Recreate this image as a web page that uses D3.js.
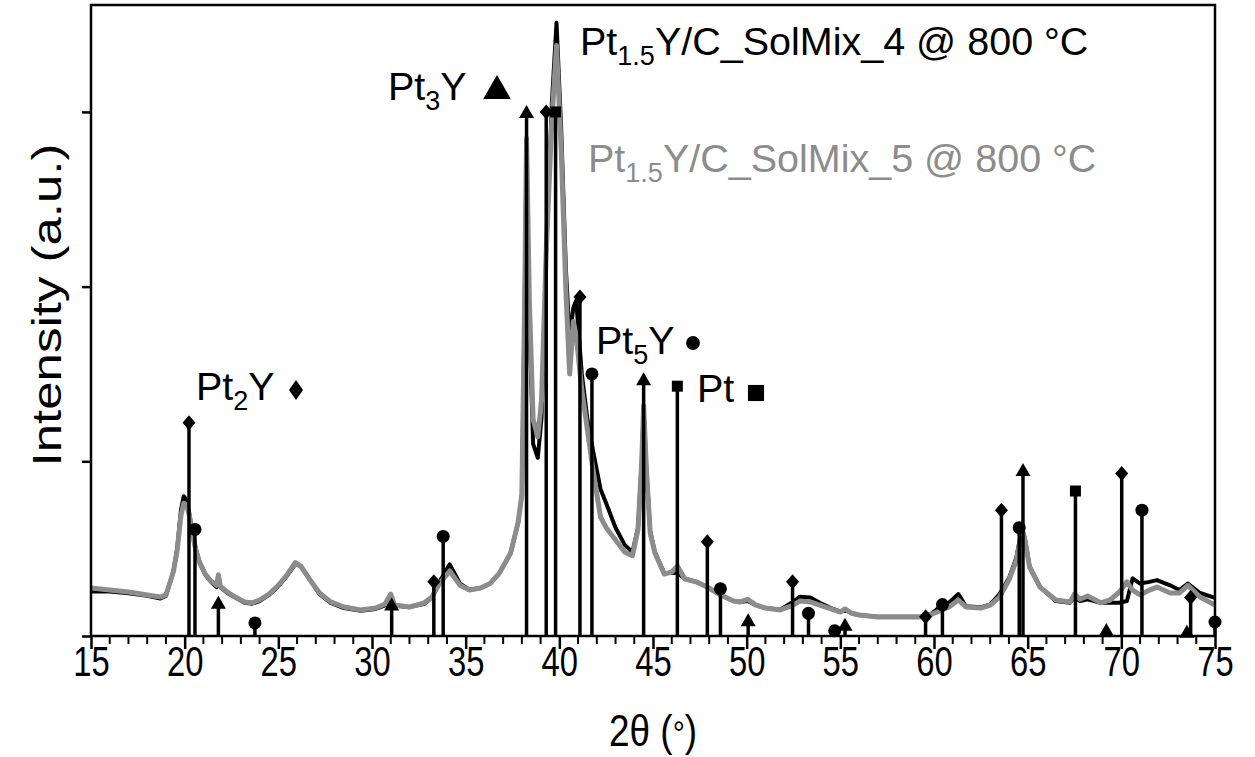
<!DOCTYPE html>
<html><head><meta charset="utf-8">
<script src="https://cdn.jsdelivr.net/npm/d3@7"></script>
<style>body{margin:0;background:#fff}svg{display:block}text{font-family:"Liberation Sans",Arial,sans-serif}</style>
</head><body><svg id="c" width="1255" height="757"></svg>
<script>
// ---- data (2θ in degrees, intensity in arbitrary units) ----
const xTicks = [15,20,25,30,35,40,45,50,55,60,65,70,75];
const yTicks = [0,1,2,3];
const gray5 = [[15,0.275],[16,0.263],[17,0.252],[18,0.235],[18.7,0.223],[19,0.235],[19.2,0.3],[19.4,0.37],[19.6,0.49],[19.8,0.69],[19.95,0.76],[20.1,0.75],[20.25,0.69],[20.4,0.59],[20.6,0.49],[20.8,0.42],[21.1,0.355],[21.4,0.315],[21.7,0.29],[21.8,0.35],[21.9,0.285],[22.3,0.25],[22.7,0.223],[23.2,0.195],[23.6,0.19],[24,0.206],[24.5,0.24],[25,0.29],[25.5,0.355],[25.9,0.42],[26.2,0.4],[26.7,0.32],[27.2,0.246],[27.8,0.195],[28.5,0.166],[29.4,0.149],[30.2,0.16],[30.7,0.183],[31,0.24],[31.2,0.177],[32,0.166],[32.8,0.19],[33.2,0.223],[33.6,0.3],[34.15,0.372],[34.7,0.29],[35.2,0.263],[35.8,0.275],[36.3,0.3],[36.8,0.36],[37.4,0.475],[37.8,0.65],[38,0.81],[38.15,1.92],[38.25,2.85],[38.4,1.92],[38.6,1.24],[38.85,1.14],[39.05,1.35],[39.3,2.2],[39.6,2.95],[39.85,3.38],[40.1,2.78],[40.35,1.98],[40.55,1.5],[40.75,1.8],[40.9,1.72],[41.2,1.41],[41.5,1.18],[41.8,0.95],[42.2,0.68],[42.5,0.62],[43,0.55],[43.5,0.48],[43.9,0.46],[44.2,0.61],[44.4,1.0],[44.5,1.32],[44.65,0.95],[44.85,0.59],[45.1,0.475],[45.6,0.355],[46,0.366],[46.3,0.4],[46.7,0.326],[47.3,0.31],[47.9,0.28],[48.6,0.235],[49.3,0.2],[49.65,0.195],[50.05,0.21],[50.5,0.177],[51,0.16],[51.8,0.149],[52.4,0.172],[52.85,0.2],[53.4,0.195],[53.9,0.177],[54.5,0.155],[55,0.137],[55.25,0.155],[55.6,0.13],[56,0.12],[57,0.109],[58.2,0.109],[59.3,0.109],[59.9,0.126],[60.3,0.143],[60.8,0.166],[61.3,0.206],[61.7,0.166],[62.5,0.16],[63,0.177],[63.5,0.223],[64,0.32],[64.4,0.435],[64.7,0.607],[64.85,0.55],[65.1,0.395],[65.66,0.28],[66.5,0.206],[67.26,0.195],[67.5,0.24],[67.8,0.21],[68.2,0.229],[68.9,0.19],[69.4,0.206],[69.9,0.252],[70.3,0.31],[70.6,0.263],[71,0.235],[71.5,0.263],[71.9,0.28],[72.6,0.246],[73.1,0.246],[73.55,0.29],[74.2,0.223],[75,0.177]];
const black4 = [[15,0.255],[16,0.255],[17,0.245],[18,0.23],[18.7,0.215],[19,0.23],[19.2,0.3],[19.4,0.37],[19.6,0.5],[19.8,0.72],[19.95,0.8],[20.1,0.78],[20.25,0.7],[20.4,0.6],[20.6,0.5],[20.8,0.42],[21.1,0.35],[21.4,0.31],[21.7,0.28],[21.8,0.3],[21.9,0.28],[22.3,0.245],[22.7,0.22],[23.2,0.19],[23.6,0.185],[24,0.2],[24.5,0.235],[25,0.285],[25.5,0.35],[25.9,0.41],[26.2,0.4],[26.7,0.32],[27.2,0.24],[27.8,0.19],[28.5,0.16],[29.4,0.145],[30.2,0.155],[30.7,0.175],[31,0.2],[31.2,0.175],[32,0.165],[32.8,0.185],[33.2,0.22],[33.6,0.31],[34.15,0.41],[34.7,0.3],[35.2,0.265],[35.8,0.275],[36.3,0.3],[36.8,0.36],[37.4,0.475],[37.8,0.65],[38,0.81],[38.15,1.9],[38.25,2.8],[38.4,1.8],[38.6,1.1],[38.85,1.02],[39.05,1.25],[39.3,2.2],[39.6,3.05],[39.85,3.51],[40.1,2.9],[40.35,2.1],[40.55,1.71],[40.75,1.88],[40.9,1.92],[41.2,1.5],[41.5,1.24],[41.8,1.06],[42.2,0.84],[42.5,0.76],[43,0.62],[43.5,0.52],[43.9,0.48],[44.2,0.62],[44.4,1.0],[44.5,1.3],[44.65,0.95],[44.85,0.6],[45.1,0.48],[45.6,0.36],[46,0.36],[46.3,0.36],[46.7,0.33],[47.3,0.31],[47.9,0.28],[48.6,0.235],[49.3,0.2],[49.65,0.195],[50.05,0.2],[50.5,0.177],[51,0.16],[51.8,0.15],[52.4,0.19],[52.85,0.225],[53.4,0.22],[53.9,0.19],[54.5,0.16],[55,0.14],[55.25,0.15],[55.6,0.13],[56,0.12],[57,0.11],[58.2,0.11],[59.3,0.11],[59.9,0.13],[60.3,0.166],[60.8,0.19],[61.3,0.24],[61.7,0.17],[62.5,0.165],[63,0.18],[63.5,0.24],[64,0.33],[64.4,0.45],[64.7,0.62],[64.85,0.56],[65.1,0.4],[65.66,0.28],[66.5,0.2],[67.26,0.19],[67.5,0.22],[67.8,0.2],[68.2,0.21],[68.9,0.19],[69.4,0.19],[69.9,0.19],[70.3,0.2],[70.6,0.33],[71,0.3],[71.5,0.31],[71.9,0.32],[72.6,0.29],[73.1,0.263],[73.55,0.3],[74.2,0.246],[75,0.218]];
const pt2yRef = [[20.23,1.22],[33.3,0.31],[39.3,3.0],[41.1,1.94],[47.9,0.54],[52.45,0.31],[59.55,0.11],[63.6,0.72],[70.02,0.93],[73.7,0.22]];
const pt3yRef = [[21.8,0.19],[31.05,0.18],[38.25,3.0],[44.5,1.47],[50.08,0.09],[55.25,0.065],[64.75,0.95],[69.2,0.035],[73.5,0.025]];
const pt5yRef = [[20.55,0.61],[23.75,0.075],[33.8,0.57],[41.74,1.5],[48.6,0.27],[53.3,0.13],[54.7,0.03],[60.45,0.18],[64.55,0.62],[71.1,0.72],[75.0,0.08]];
const ptRef = [[39.8,3.0],[46.3,1.43],[67.55,0.83]];

// ---- chart ----
const svg = d3.select("#c");
const L=91,R=1215,T=5,B=636;
const x = d3.scaleLinear().domain([15,75]).range([L,R]);
const y = d3.scaleLinear().domain([0,3.612]).range([B,T]);

const line = d3.line().x(d=>x(d[0])).y(d=>y(d[1])).curve(d3.curveLinear);
svg.append("path").datum(black4).attr("d",line).attr("fill","none").attr("stroke","#000").attr("stroke-width",4).attr("stroke-linejoin","round");
svg.append("path").datum(gray5).attr("d",line).attr("fill","none").attr("stroke","#8c8c8c").attr("stroke-width",5).attr("stroke-linejoin","round");

// custom marker shapes
const shapes = {
  diamond: "M0,-7.5L6.5,0L0,7.5L-6.5,0Z",
  triangle: "M0,-7L7.5,6L-7.5,6Z",
  circle: "M6.5,0A6.5,6.5,0,1,1,-6.5,0A6.5,6.5,0,1,1,6.5,0Z",
  square: "M-5.5,-5.5H5.5V5.5H-5.5Z"
};
function sticks(data, shape){
  const g = svg.append("g");
  g.selectAll("line").data(data).join("line")
    .attr("x1",d=>x(d[0])).attr("x2",d=>x(d[0]))
    .attr("y1",y(0)).attr("y2",d=>y(d[1]))
    .attr("stroke","#000").attr("stroke-width",3.5);
  g.selectAll("path").data(data).join("path")
    .attr("d",shapes[shape])
    .attr("transform",d=>`translate(${x(d[0])},${y(d[1])})`)
    .attr("fill","#000");
}
sticks(pt2yRef,"diamond");
sticks(pt3yRef,"triangle");
sticks(pt5yRef,"circle");
sticks(ptRef,"square");

// frame
svg.append("rect").attr("x",L).attr("y",T).attr("width",R-L).attr("height",B-T)
  .attr("fill","none").attr("stroke","#000").attr("stroke-width",2.5);

const SQ = 0.78; // horizontal condensation of axis text
// x axis
const xa = svg.append("g").attr("transform",`translate(0,${B})`)
  .call(d3.axisBottom(x).tickValues(xTicks).tickSize(13).tickFormat(d3.format("d")));
xa.select(".domain").remove();
xa.selectAll(".tick line").attr("stroke-width",2.5);
xa.selectAll("text").attr("font-size",42).attr("y",40).attr("dy",0)
  .attr("font-family","Liberation Sans, Arial, sans-serif")
  .each(function(){ const w=this.getComputedTextLength(); d3.select(this).attr("textLength",w*SQ).attr("lengthAdjust","spacingAndGlyphs"); });
const minor = d3.range(15,76,1).filter(v=>v%5!==0);
svg.append("g").selectAll("line").data(minor).join("line")
  .attr("x1",d=>x(d)).attr("x2",d=>x(d)).attr("y1",B).attr("y2",B+8)
  .attr("stroke","#000").attr("stroke-width",2);

// y axis ticks (no labels)
const ya = svg.append("g").attr("transform",`translate(${L},0)`)
  .call(d3.axisLeft(y).tickValues(yTicks).tickSize(9).tickFormat(""));
ya.select(".domain").remove();
ya.selectAll(".tick line").attr("stroke-width",2.5);

// axis titles
const xt = svg.append("text").attr("transform",`translate(653,746) scale(0.84,1)`).attr("text-anchor","middle").attr("font-size",44);
xt.append("tspan").text("2θ (");
xt.append("tspan").text("°").attr("font-size",36);
xt.append("tspan").text(")");
svg.append("text").attr("transform",`translate(61,305) scale(${SQ},1) rotate(-90)`).attr("text-anchor","middle")
  .attr("font-size",51).text("Intensity (a.u.)");

// labels with subscripts
function label(xp, yp, main, sub, rest, color){
  const t = svg.append("text").attr("x",xp).attr("y",yp).attr("font-size",39.5).attr("fill",color);
  t.append("tspan").text(main);
  if (sub) {
    t.append("tspan").text(sub).attr("font-size",27).attr("dy",10);
    t.append("tspan").text(rest).attr("dy",-10);
  }
  return t;
}
label(580,55,"Pt","1.5","Y/C_SolMix_4 @ 800 °C","#000");
label(588,172,"Pt","1.5","Y/C_SolMix_5 @ 800 °C","#8c8c8c");
label(388,100,"Pt","3","Y","#000");
label(196,400,"Pt","2","Y","#000");
label(596,354,"Pt","5","Y","#000");
label(697,402,"Pt","","","#000");

svg.append("path").attr("d",d3.symbol().type(d3.symbolTriangle).size(330)).attr("transform","translate(497,91)").attr("fill","#000");
svg.append("path").attr("d","M0,-10L7,0L0,10L-7,0Z").attr("transform","translate(296,390)").attr("fill","#000");
svg.append("path").attr("d",d3.symbol().type(d3.symbolCircle).size(150)).attr("transform","translate(693,343)").attr("fill","#000");
svg.append("path").attr("d",d3.symbol().type(d3.symbolSquare).size(260)).attr("transform","translate(756,393)").attr("fill","#000");
</script></body></html>
